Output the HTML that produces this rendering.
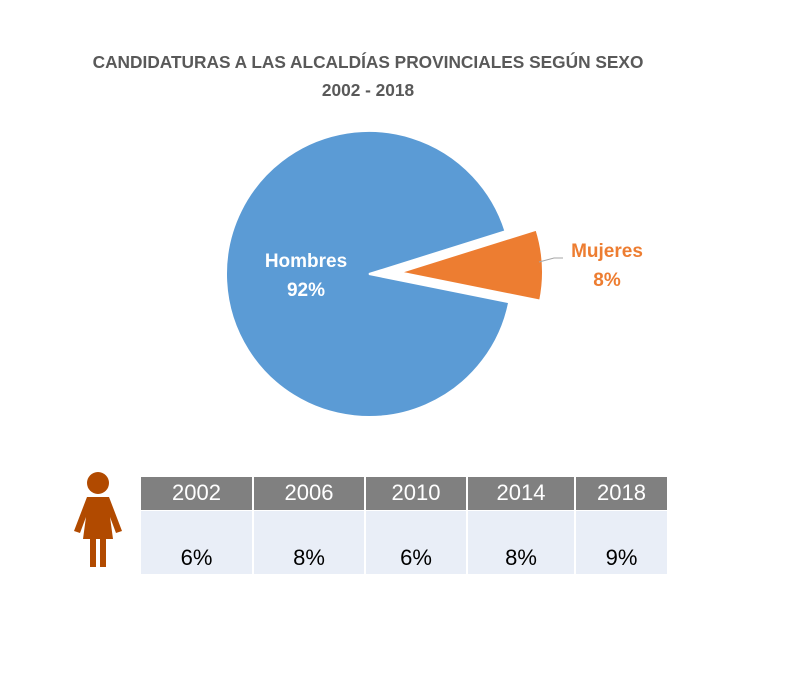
<!DOCTYPE html>
<html><head><meta charset="utf-8"><style>
body{margin:0;background:#fff;width:789px;height:683px;overflow:hidden;font-family:"Liberation Sans",sans-serif;position:relative}
.title{position:absolute;left:0;width:736px;text-align:center;top:48px;font-weight:bold;font-size:17.3px;color:#595959;line-height:28px}
table{position:absolute;left:141px;top:477px;border-collapse:collapse;font-size:22px;table-layout:fixed;width:526px}
td{text-align:center;border-left:2px solid #fff;padding:0;box-sizing:border-box}
td:first-child{border-left:none}
.h td{background:#808080;color:#fff;height:33px}
.b td{background:#e9eef7;color:#000;height:64px;vertical-align:bottom;padding-bottom:3px;border-top:1px solid #fff}
</style></head><body>
<div class="title">CANDIDATURAS A LAS ALCALDÍAS PROVINCIALES SEGÚN SEXO<br>2002 - 2018</div>
<svg id="pie" width="789" height="683" style="position:absolute;left:0;top:0"></svg>
<svg width="60" height="110" style="position:absolute;left:70px;top:465px">
<circle cx="28" cy="18" r="11" fill="#b14a00"/>
<path d="M17 32 L39 32 L52 66 L46 68 L40 52 L43 74 L36 74 L36 102 L30 102 L30 74 L26 74 L26 102 L20 102 L20 74 L13 74 L16 52 L10 68 L4 66 Z" fill="#b14a00"/>
</svg>
<table>
<colgroup><col style="width:112px"><col style="width:112px"><col style="width:102px"><col style="width:108px"><col style="width:92px"></colgroup>
<tr class="h"><td>2002</td><td>2006</td><td>2010</td><td>2014</td><td>2018</td></tr>
<tr class="b"><td>6%</td><td>8%</td><td>6%</td><td>8%</td><td>9%</td></tr>
</table>
<script>
const labels=["Hombres","Mujeres"];
const values=[92,8];
const colors=["#5b9bd5","#ed7d31"];
const svg=document.getElementById('pie');
const NS="http://www.w3.org/2000/svg";
const cx=369,cy=274,r=143;
const total=values.reduce((a,b)=>a+b,0);
let start=-3*Math.PI/180+ (values[1]/total)*Math.PI;
function pt(a,rr,ox,oy){return [ox+rr*Math.cos(a),oy+rr*Math.sin(a)];}
values.forEach((v,i)=>{
  const sweep=v/total*2*Math.PI;
  const mid=start+sweep/2;
  const off=i===1?31:0;
  const ox=cx+off*Math.cos(mid),oy=cy+off*Math.sin(mid);
  const p1=pt(start,r,ox,oy),p2=pt(start+sweep,r,ox,oy);
  const large=sweep>Math.PI?1:0;
  const p=document.createElementNS(NS,'path');
  p.setAttribute('d',`M${ox},${oy} L${p1[0]},${p1[1]} A${r},${r} 0 ${large} 1 ${p2[0]},${p2[1]} Z`);
  p.setAttribute('fill',colors[i]);p.setAttribute('stroke','#fff');p.setAttribute('stroke-width','2');
  
  
  svg.appendChild(p);
  start+=sweep;
});
function txt(x,y,s,c,n){const t=document.createElementNS(NS,'text');t.setAttribute('x',x);t.setAttribute('y',y);t.setAttribute('text-anchor','middle');t.setAttribute('font-size','19');t.setAttribute('font-weight','bold');t.setAttribute('fill',c);t.setAttribute('font-family','Liberation Sans, sans-serif');t.textContent=s;


svg.appendChild(t);}
txt(306,267,labels[0],'#fff','label-hombres');
txt(306,296,values[0]+'%','#fff','value-hombres');
txt(607,257,labels[1],'#ed7d31','label-mujeres');
txt(607,286,values[1]+'%','#ed7d31','value-mujeres');
const l=document.createElementNS(NS,'path');l.setAttribute('d','M539,262 L554,258 L563,258');l.setAttribute('stroke','#a6a6a6');l.setAttribute('fill','none');


svg.appendChild(l);
</script>
</body></html>
